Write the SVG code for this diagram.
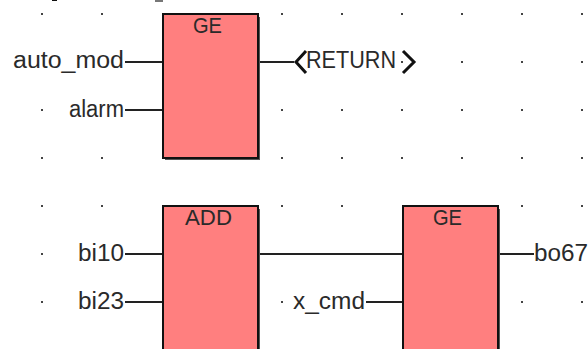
<svg xmlns="http://www.w3.org/2000/svg" width="588" height="349" viewBox="0 0 588 349">
<style>
.t{font-family:"Liberation Sans",Arial,sans-serif;font-size:23px;fill:#2a2a2a}
.h{font-size:22px}
.c{stroke:#222;stroke-width:1.8;fill:none}
.b{fill:#ff7f7f;stroke:#111;stroke-width:2}
.s{fill:#555}
.d{fill:#444}
</style>
<defs><rect id="p" x="-1" y="-1" width="2" height="2" class="d"/></defs>
<rect width="588" height="349" fill="#fff"/>
<path d="M52 0H57V1H52Z" fill="#111"/><path d="M155 0H163V2H155Z" fill="#777"/>
<g id="grid">
<use href="#p" x="42" y="14"/><use href="#p" x="102" y="14"/><use href="#p" x="282" y="14"/><use href="#p" x="342" y="14"/><use href="#p" x="402" y="14"/><use href="#p" x="462" y="14"/><use href="#p" x="522" y="14"/><use href="#p" x="582" y="14"/>
<use href="#p" x="402" y="62"/><use href="#p" x="462" y="62"/><use href="#p" x="522" y="62"/><use href="#p" x="582" y="62"/>
<use href="#p" x="42" y="110"/><use href="#p" x="282" y="110"/><use href="#p" x="342" y="110"/><use href="#p" x="402" y="110"/><use href="#p" x="462" y="110"/><use href="#p" x="522" y="110"/><use href="#p" x="582" y="110"/>
<use href="#p" x="42" y="158"/><use href="#p" x="102" y="158"/><use href="#p" x="282" y="158"/><use href="#p" x="342" y="158"/><use href="#p" x="402" y="158"/><use href="#p" x="462" y="158"/><use href="#p" x="522" y="158"/><use href="#p" x="582" y="158"/>
<use href="#p" x="42" y="206"/><use href="#p" x="102" y="206"/><use href="#p" x="282" y="206"/><use href="#p" x="342" y="206"/><use href="#p" x="522" y="206"/><use href="#p" x="582" y="206"/>
<use href="#p" x="42" y="254"/>
<use href="#p" x="42" y="302"/><use href="#p" x="282" y="302"/><use href="#p" x="522" y="302"/><use href="#p" x="582" y="302"/>
</g>
<g id="connectors">
<path class="c" d="M125 62H162M125 110H162M260 62H294M125 254H162M125 302H162M260 254H402M366 302H402M500 254H534"/>
</g>
<g id="ge1">
<rect class="s" x="165" y="17" width="95" height="143"/>
<rect class="b" x="163" y="14" width="95" height="144"/>
<text class="t h" x="193" y="33" textLength="29" lengthAdjust="spacingAndGlyphs">GE</text>
</g>
<g id="add">
<rect class="s" x="165" y="209" width="95" height="143"/>
<rect class="b" x="163" y="206" width="95" height="144"/>
<text class="t h" x="185" y="225" textLength="47" lengthAdjust="spacingAndGlyphs">ADD</text>
</g>
<g id="ge2">
<rect class="s" x="405" y="209" width="95" height="143"/>
<rect class="b" x="403" y="206" width="95" height="144"/>
<text class="t h" x="433" y="225" textLength="29" lengthAdjust="spacingAndGlyphs">GE</text>
</g>
<g id="return">
<path d="M306 51L296 62L306 73M403 51L414 62L403 73" fill="none" stroke="#111" stroke-width="3"/>
<text class="t" x="306" y="68" textLength="90" lengthAdjust="spacingAndGlyphs">RETURN</text>
</g>
<g id="labels">
<text class="t" x="13" y="68" textLength="111" lengthAdjust="spacingAndGlyphs">auto_mod</text>
<text class="t" x="69" y="117" textLength="55" lengthAdjust="spacingAndGlyphs">alarm</text>
<text class="t" x="78" y="261" textLength="46" lengthAdjust="spacingAndGlyphs">bi10</text>
<text class="t" x="78" y="309" textLength="46" lengthAdjust="spacingAndGlyphs">bi23</text>
<text class="t" x="293" y="309" textLength="72" lengthAdjust="spacingAndGlyphs">x_cmd</text>
<text class="t" x="534" y="261" textLength="54" lengthAdjust="spacingAndGlyphs">bo67</text>
</g>
</svg>
